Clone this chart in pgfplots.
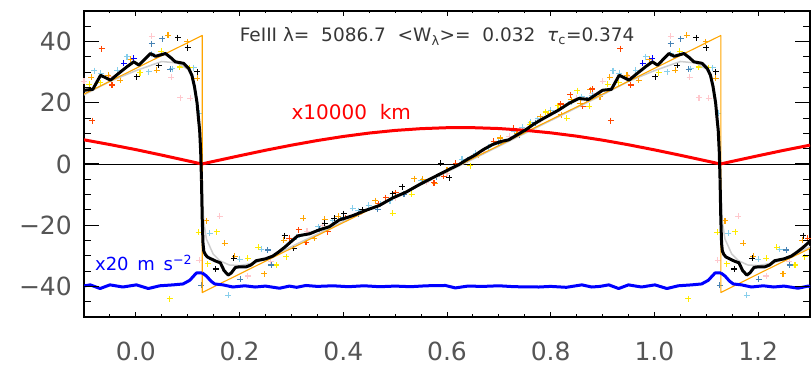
\documentclass[border=0pt]{standalone}
\usepackage{fontspec}
\setmainfont{DejaVu Sans}
\usepackage{pgfplots}
\usepackage{pgfplotstable}
\pgfplotsset{compat=1.18}
\definecolor{tickgray}{RGB}{85,85,85}
\definecolor{titlegray}{RGB}{55,55,55}
\definecolor{corange}{RGB}{255,165,0}
\definecolor{corangered}{RGB}{255,69,0}
\definecolor{cyellow}{RGB}{255,235,0}
\definecolor{csky}{RGB}{135,206,235}
\definecolor{csteel}{RGB}{70,130,180}
\definecolor{cpink}{RGB}{255,200,205}
\definecolor{cgray}{RGB}{205,205,205}
\definecolor{cred}{RGB}{255,0,0}
\definecolor{cblue}{RGB}{0,0,255}

% smoothed mean curve, one phase cycle
\pgfplotstableread{
x y
0.1265 -5
0.128 -18
0.1295 -26
0.131 -28.5
0.134 -29.6
0.138 -30.4
0.145 -31
0.155 -31.8
0.163 -32.3
0.170 -34.8
0.178 -36.3
0.184 -35.6
0.192 -33.8
0.200 -33.6
0.213 -33.6
0.222 -33.0
0.232 -31.6
0.250 -31.0
0.264 -30.1
0.275 -28.8
0.287 -27.2
0.299 -25.4
0.312 -23.5
0.335 -22.8
0.354 -21.5
0.373 -20.5
0.392 -18.3
0.418 -16.9
0.444 -15.1
0.469 -13.6
0.495 -11.1
0.521 -9.2
0.546 -6.8
0.571 -4.6
0.591 -2.9
0.607 -1.5
0.623 -0.2
0.639 1.5
0.655 3
0.671 4.8
0.687 6.3
0.703 7.3
0.719 7.9
0.735 9.5
0.751 11.1
0.767 13
0.783 14.6
0.800 16.2
0.815 17.6
0.835 19.8
0.854 21.4
0.873 21.1
0.892 23.2
0.900 24.1
0.917 24.4
0.932 29
0.951 27.4
0.966 29.5
0.983 31.8
0.996 33.4
1.006 32.3
1.028 36.1
1.038 35.2
1.057 36.1
1.067 34.8
1.076 33.4
1.092 32.9
1.102 31.2
1.108 29
1.113 25.3
1.118 20
1.121 14.4
1.123 11
1.125 4
1.1265 -5
}\tcurve

\pgfplotstableread{
x y
0.1265 5
0.129 -12
0.131 -19
0.136 -24.5
0.149 -29.4
0.162 -31.6
0.180 -33
0.200 -33.2
0.230 -32.3
0.260 -30.5
0.300 -27
0.400 -18.8
0.500 -10.8
0.600 -2.6
0.700 5.8
0.800 14.2
0.900 22.6
0.950 27
1.000 30.5
1.050 33.5
1.080 33
1.100 31
1.110 28
1.117 21
1.122 14
1.1265 5
}\tgray

\pgfplotstableread{
x y
0.128 -35.6
0.136 -36.6
0.145 -38.3
0.152 -39.2
0.168 -39.5
0.187 -40.2
0.210 -39.8
0.230 -40.2
0.250 -39.9
0.277 -40.6
0.296 -39.9
0.310 -40.3
0.328 -39.7
0.350 -40.0
0.380 -39.8
0.410 -40.1
0.440 -39.8
0.470 -40.1
0.500 -39.9
0.530 -40.1
0.560 -39.8
0.597 -39.7
0.616 -40.5
0.640 -39.9
0.670 -40.0
0.700 -39.8
0.730 -40.1
0.777 -40.2
0.800 -40.0
0.830 -40.3
0.860 -39.5
0.879 -40.2
0.895 -40.0
0.912 -39.5
0.931 -40.7
0.950 -39.5
0.975 -40.2
1.001 -39.5
1.024 -40.7
1.046 -39.8
1.072 -39.5
1.091 -39.2
1.104 -38.0
1.112 -36.5
1.117 -35.6
1.128 -35.6
}\tblueline

\pgfplotstableread{
x y
0.002 28.5
0.044 32.3
0.081 41.3
0.100 38.0
0.118 30.1
0.154 -34.3
0.189 -30.8
0.287 -23.4
0.304 -27.5
0.364 -19.4
0.383 -17.8
0.401 -16.2
0.437 -15.0
0.495 -9.7
0.514 -7.4
0.588 0.2
0.604 -4.5
}\tblack

\pgfplotstableread{
x y
0.040 30.7
0.062 42.0
0.099 39.9
0.118 28.0
0.136 -18.6
0.171 -25.9
0.191 -30.2
0.248 -35.9
0.285 -25.0
0.323 -17.8
0.344 -24.3
0.364 -18.0
0.390 -17.1
0.462 -12.0
0.537 -4.8
0.553 -5.0
0.576 -6.3
0.600 -2.0
0.660 2.8
0.703 8.5
0.735 10.0
0.780 15.5
0.799 16.6
0.820 16.1
0.840 21.0
0.857 19.9
0.876 24.2
0.895 22.0
0.914 28.3
0.947 29.0
0.970 27.4
0.990 34.2
}\torange

\pgfplotstableread{
x y
0.296 -24.3
0.314 -21.5
0.328 -25.6
0.370 -22.1
0.405 -17.8
0.468 -13.0
0.482 -11.0
0.501 -9.4
0.575 -6.1
0.594 -4.0
0.617 0.2
0.690 7.4
0.729 11.7
0.819 19.6
0.838 22.6
0.862 18.8
0.880 24.5
0.916 14.2
0.934 37.7
0.954 25.8
}\torangered

\pgfplotstableread{
x y
0.008 29.8
0.049 36.8
0.065 -44.0
0.085 31.7
0.104 31.5
0.121 -22.3
0.139 -32.6
0.156 -22.1
0.216 -30.8
0.236 -27.2
0.271 -33.0
0.290 -30.3
0.495 -16.1
0.532 -9.9
0.645 -0.5
0.760 13.0
0.790 17.0
0.814 19.0
0.831 15.0
0.851 24.0
0.874 18.8
0.910 26.0
0.931 26.6
}\tyellow

\pgfplotstableread{
x y
0.025 30.1
0.031 36.0
0.070 31.2
0.112 31.5
0.123 16.6
0.142 -22.6
0.178 -42.9
0.200 -31.2
0.242 -27.8
0.310 -24.0
0.352 -20.5
0.380 -18.6
0.418 -14.5
0.429 -15.3
0.449 -13.5
0.472 -13.2
0.490 -12.0
0.550 -5.5
0.629 1.5
0.655 3.5
0.680 5.5
0.700 7.2
0.730 10.5
0.745 12.0
0.761 13.6
0.775 14.8
0.800 17.5
0.840 20.3
0.860 22.0
0.880 22.5
0.920 30.5
0.932 29.6
0.964 30.7
0.983 35.0
}\tsky

\pgfplotstableread{
x y
0.031 39.3
0.051 41.0
0.066 31.0
0.126 -39.7
0.201 -37.7
0.254 -28.1
0.261 -33.0
0.354 -21.3
0.400 -17.5
0.430 -16.3
0.466 -14.8
0.517 -9.9
0.580 -4.2
0.640 1.2
0.700 6.8
0.740 9.5
0.770 13.5
0.870 21.0
}\tsteel

\pgfplotstableread{
x y
0.977 32.9
0.996 34.5
}\tbluepts

\pgfplotstableread{
x y
0.031 41.7
0.068 28.3
0.086 21.7
0.105 21.5
0.122 -31.5
0.162 -17.1
0.216 -36.6
0.260 -32.0
0.330 -22.0
0.360 -20.0
0.430 -16.5
0.500 -11.0
0.560 -6.0
0.600 -3.0
0.670 4.0
0.720 9.0
0.780 14.5
0.850 21.5
0.880 23.0
0.900 27.0
0.950 28.5
}\tpink

% phase-folded data shown at phase, phase+1, phase-1
\newcommand{\scat}[2]{%
  \addplot[only marks, mark=+, mark size=3pt, color=#2, mark options={line width=1.1pt}] table[x index=0, y index=1] {#1};
  \addplot[only marks, mark=+, mark size=3pt, color=#2, mark options={line width=1.1pt}] table[x expr=\thisrowno{0}+1, y index=1] {#1};
  \addplot[only marks, mark=+, mark size=3pt, color=#2, mark options={line width=1.1pt}] table[x expr=\thisrowno{0}-1, y index=1] {#1};
}
\newcommand{\cyc}[2]{%
  \addplot[#2] table[x index=0, y index=1] {#1};
  \addplot[#2] table[x expr=\thisrowno{0}+1, y index=1] {#1};
  \addplot[#2] table[x expr=\thisrowno{0}-1, y index=1] {#1};
}

\begin{document}
\begin{tikzpicture}
\useasboundingbox (-84pt,-52pt) rectangle (727pt,317pt);
\begin{axis}[
  at={(0,0)}, anchor=south west,
  scale only axis, width=726pt, height=306pt,
  xmin=-0.1, xmax=1.3, ymin=-50, ymax=50,
  xtick={0,0.2,0.4,0.6,0.8,1.0,1.2},
  xticklabels={0.0,0.2,0.4,0.6,0.8,1.0,1.2},
  minor xtick={-0.05,0.05,0.1,0.15,0.25,0.3,0.35,0.45,0.5,0.55,0.65,0.7,0.75,0.85,0.9,0.95,1.05,1.1,1.15,1.25},
  ytick=\empty,
  tick align=inside,
  major tick length=5pt, minor tick length=2.5pt,
  tick style={black, line width=1pt},
  axis line style={line width=1.2pt},
  xticklabel style={font=\fontsize{25}{25}\selectfont, text=tickgray, anchor=north, inner sep=0pt, yshift=-25pt},
  clip mode=individual,
]
\addplot[black, line width=0.9pt] coordinates {(-0.1,0) (1.3,0)};
\scat{\tpink}{cpink}
\scat{\tsky}{csky}
\scat{\tyellow}{cyellow}
\scat{\tsteel}{csteel}
\scat{\torange}{corange}
\scat{\torangered}{corangered}
\scat{\tbluepts}{cblue}
\scat{\tblack}{black}
\cyc{\tgray}{cgray, line width=1.5pt}
\addplot[corange, line width=1.1pt, line join=round] coordinates {(-0.1,22.85) (0.128,42) (0.128,-42) (1.128,42) (1.128,-42) (1.3,-27.55)};
\cyc{\tblueline}{cblue, line width=3pt, line join=round}
\addplot[cred, line width=3pt, line join=round] coordinates {
(-0.1,7.9) (-0.05,6.35) (0,4.7) (0.05,2.9) (0.1,1.03) (0.127,0) (0.15,0.86) (0.2,2.7) (0.25,4.49) (0.3,6.15) (0.35,7.67) (0.4,9.0) (0.45,10.11) (0.5,10.97) (0.55,11.55) (0.6,11.86) (0.627,11.9) (0.65,11.87) (0.7,11.59) (0.75,11.02) (0.8,10.18) (0.85,9.1) (0.9,7.79) (0.95,6.28) (1.0,4.62) (1.05,2.85) (1.1,1.01) (1.127,0) (1.15,0.86) (1.2,2.7) (1.25,4.49) (1.3,6.15)};
\cyc{\tcurve}{black, line width=3pt, line join=round}
\node[anchor=base west, text=titlegray, font=\fontsize{18.5}{18.5}\selectfont, inner sep=0pt] at (axis cs:0.2,39.9) {FeIII\ λ=\ \ 5086.7\ \ <W\textsubscript{λ}>=\ \ 0.032\ \ \textit{τ}\textsubscript{c}=0.374};
\node[anchor=base west, text=cred, font=\fontsize{20}{20}\selectfont, inner sep=0pt] at (axis cs:0.3,14.7) {x10000\ \ km};
\node[anchor=base west, text=cblue, font=\fontsize{18}{18}\selectfont, inner sep=0pt] at (axis cs:-0.079,-34.8) {x20\ \,m\ \,s\textsuperscript{−2}};
\end{axis}
\begin{axis}[
  at={(0,0)}, anchor=south west,
  scale only axis, width=726pt, height=306pt,
  xmin=-0.1, xmax=1.3, ymin=-50, ymax=50,
  xtick=\empty,
  ytick={-40,-20,0,20,40},
  yticklabels={−40,−20,0,20,40},
  minor ytick={-45,-35,-30,-25,-15,-10,-5,5,10,15,25,30,35,45},
  tick align=inside,
  major tick length=15pt, minor tick length=7.5pt,
  tick style={black, line width=1pt},
  axis line style={draw=none},
  yticklabel style={font=\fontsize{25}{25}\selectfont, text=tickgray, anchor=east, inner sep=0pt, xshift=-12pt},
]
\end{axis}
\end{tikzpicture}
\end{document}
